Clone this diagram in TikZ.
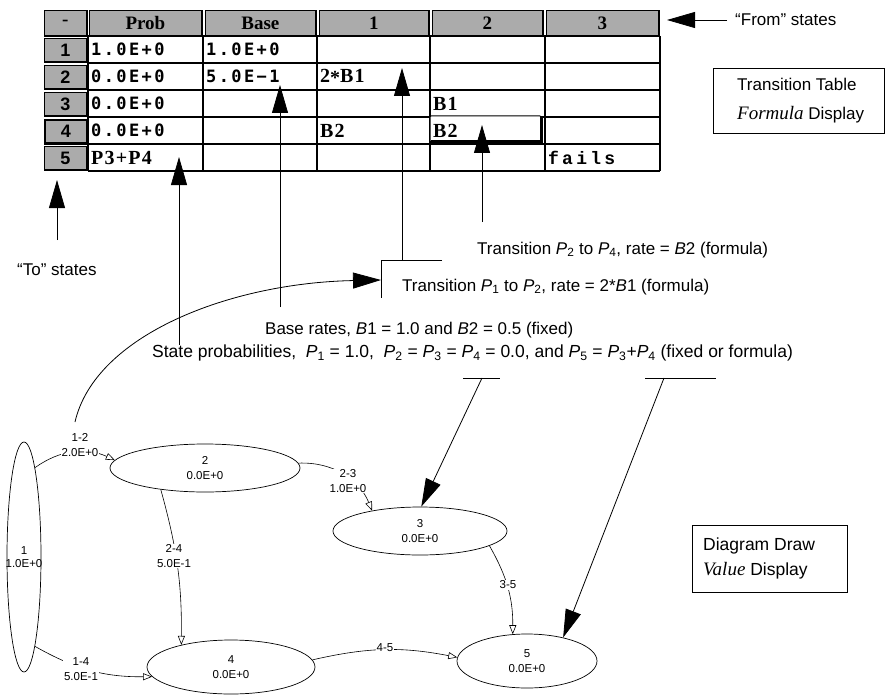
\documentclass[tikz,border=0pt]{standalone}
\usepackage{fontspec}
\setmainfont{Liberation Sans}
\newfontfamily\serifface{Liberation Serif}
\newfontfamily\monoface[LetterSpace=14]{DejaVu Sans Mono}
\newfontfamily\forface[LetterSpace=6]{Liberation Serif}
\newfontfamily\courface[LetterSpace=18]{Liberation Mono}
\usetikzlibrary{arrows.meta,shapes.geometric}
\newcommand{\Pv}[1]{\textit{P}\textsubscript{#1}}
\newcommand{\Bv}[1]{\textit{B}#1}
\begin{document}
\begin{tikzpicture}[x=1pt,y=1pt,
  hdr/.style={draw, line width=0.8pt, fill=black!33, anchor=north west, inner sep=0pt, minimum height=25pt, font=\serifface\bfseries\fontsize{19}{19}\selectfont},
  rhdr/.style={draw, line width=0.8pt, fill=black!33, anchor=north west, inner sep=0pt, minimum width=42pt, minimum height=23pt, font=\bfseries\fontsize{18}{18}\selectfont},
  gridline/.style={line width=1.2pt},
  numcell/.style={anchor=west, inner sep=0pt, font=\monoface\bfseries\fontsize{17}{17}\selectfont},
  forcell/.style={anchor=west, inner sep=0pt, font=\forface\bfseries\fontsize{20}{20}\selectfont},
  courcell/.style={anchor=west, inner sep=0pt, font=\courface\bfseries\fontsize{18}{18}\selectfont},
  ann/.style={anchor=west, inner sep=0pt, font=\fontsize{17}{20}\selectfont},
  bigarrow/.style={line width=0.8pt, -{Triangle[length=28pt,width=16pt]}},
  state/.style={draw, ellipse, line width=0.7pt, inner sep=0pt, align=center, font=\fontsize{11.5}{14.5}\selectfont},
  etext/.style={inner sep=0pt, align=center, font=\fontsize{11.5}{13.5}\selectfont},
  elabel/.style={fill=white, inner sep=1pt, align=center, font=\fontsize{11.5}{14.5}\selectfont},
  edge/.style={line width=0.6pt, -{Triangle[open,length=9pt,width=7pt]}},
  infobox/.style={draw, line width=0.7pt, anchor=north west, inner sep=0pt},
  infotext/.style={anchor=west, inner sep=0pt, align=left},
]
\useasboundingbox (0,0) rectangle (885,-695);

% ---------- table header ----------
\node[hdr, minimum width=42pt]  (h0) at (44,-10)  {-};
\node[hdr, minimum width=112pt] (hP) at (89,-10)  {Prob};
\node[hdr, minimum width=110pt] (hB) at (205,-10) {Base};
\node[hdr, minimum width=109pt] (h1) at (319,-10) {1};
\node[hdr, minimum width=110pt] (h2) at (432,-10) {2};
\node[hdr, minimum width=112pt] (h3) at (546,-10) {3};
\foreach \n in {h0,hP,hB,h1,h2,h3}
  \draw[line width=2.2pt] (\n.south west) -- (\n.south east) -- (\n.north east);

% ---------- row headers ----------
\node[rhdr] (r1) at (44,-38)  {1};
\node[rhdr] (r2) at (44,-65)  {2};
\node[rhdr] (r3) at (44,-92)  {3};
\node[rhdr, line width=2pt] (r4) at (44,-119) {4};
\node[rhdr] (r5) at (44,-146) {5};
\foreach \n in {r1,r2,r3,r4,r5}
  \draw[line width=1.6pt] (\n.south west) -- (\n.south east) -- (\n.north east);

% ---------- grid ----------
\foreach \x in {88,203,317,430,545,660} \draw[gridline] (\x,-36) -- (\x,-171);
\foreach \y in {36,63,90,117,144,171} \draw[gridline] (88,-\y) -- (660,-\y);

% selected cell
\draw[line width=1pt, fill=white, rounded corners=1pt] (430,-116) rectangle (541,-142);
\draw[line width=3pt] (431,-142) -- (541,-142) -- (541,-117);

% ---------- cell contents ----------
\node[numcell] (p1) at (91,-49.5)  {1.0E+0};
\node[numcell] (b1) at (206,-49.5) {1.0E+0};
\node[numcell] (p2) at (91,-76.5)  {0.0E+0};
\node[numcell] (b2) at (206,-76.5) {5.0E−1};
\node[forcell] (f12) at (320,-76.5) {2\raisebox{-0.2ex}{*}B1};
\node[numcell] (p3) at (91,-103.5) {0.0E+0};
\node[forcell] (f23) at (433,-103.5) {B1};
\node[numcell] (p4) at (91,-130.5) {0.0E+0};
\node[forcell] (f14) at (320,-130.5) {B2};
\node[forcell] (f24) at (433,-130.5) {B2};
\node[forcell] (p5) at (91,-157.5) {P3+P4};
\node[courcell] (f35) at (548,-157.5) {fails};

% ---------- annotations ----------
\node[ann] (fromT) at (735,-20) {``From'' states};
\coordinate (fromS) at (727,-20);
\coordinate (fromE) at (667,-20);
\draw[bigarrow] (fromS) -- (fromE);

\node[ann] (toT) at (17,-270) {``To'' states};
\coordinate (toS) at (57,-240);
\coordinate (toE) at (57,-180);
\draw[bigarrow] (toS) -- (toE);

\coordinate (probS) at (179,-345);
\coordinate (probE) at (179,-157);
\draw[bigarrow] (probS) -- (probE);

\coordinate (baseS) at (280,-307);
\coordinate (baseE) at (280,-85);
\draw[bigarrow] (baseS) -- (baseE);

\coordinate (t12S) at (402,-260);
\coordinate (t12E) at (402,-68);
\draw[bigarrow] (t12S) -- (t12E);

\coordinate (t24S) at (482,-222);
\coordinate (t24E) at (482,-125);
\draw[bigarrow] (t24S) -- (t24E);

\coordinate (brA) at (442,-260);
\coordinate (brB) at (381,-260);
\coordinate (brC) at (381,-298);
\draw[line width=0.8pt] (brA) -- (brB) -- (brC);

\node[ann] (t24T) at (477,-250) {Transition \Pv{2} to \Pv{4}, rate = \Bv{2} (formula)};
\node[ann] (t12T) at (402,-287) {Transition \Pv{1} to \Pv{2}, rate = 2*\Bv{1} (formula)};
\node[ann] (baseT) at (265,-330) {Base rates, \Bv{1} = 1.0 and \Bv{2} = 0.5 (fixed)};
\node[ann, font=\fontsize{17.5}{20}\selectfont] (probT) at (152,-353) {State probabilities,\ \ \Pv{1} = 1.0,\ \ \Pv{2} = \Pv{3} = \Pv{4} = 0.0, and \Pv{5} = \Pv{3}+\Pv{4} (fixed or formula)};

\node[infobox, minimum width=171pt, minimum height=65pt] (tbox) at (713,-68) {};
\node[infotext, font=\fontsize{17}{29}\selectfont] (tboxT) at ([xshift=24pt]tbox.west) {Transition Table\\{\serifface\itshape\fontsize{19}{29}\selectfont Formula} Display};
\node[infobox, minimum width=155pt, minimum height=67pt] (dbox) at (692,-525) {};
\node[infotext, font=\fontsize{17.5}{25}\selectfont] (dboxT) at ([xshift=11pt]dbox.west) {Diagram Draw\\{\serifface\itshape\fontsize{19}{25}\selectfont Value} Display};

% ---------- state diagram ----------
\node[state, minimum width=34pt, minimum height=230pt] (e1) at (24,-557) {};
\node[etext] (e1t) at (24,-557) {1\\1.0E+0};
\node[state, minimum width=190pt, minimum height=48pt] (e2) at (205,-468) {2\\0.0E+0};
\node[state, minimum width=174pt, minimum height=48pt] (e3) at (420,-531) {3\\0.0E+0};
\node[state, minimum width=168pt, minimum height=54pt] (e4) at (231,-667) {4\\0.0E+0};
\node[state, minimum width=140pt, minimum height=54pt] (e5) at (527,-661) {5\\0.0E+0};

\draw[edge] (e1.83) to[bend left=30] (e2.175);
\draw[edge] (e1.277) to[bend right=15] (e4.187);
\draw[edge] (e2.206) to[bend left=8] (e4.156);
\draw[edge] (e2.3) to[bend left=35] (e3.157);
\draw[edge] (e3.348.5) to[bend left=15] (e5.118);
\draw[edge] (e4.5) to[bend left=12] (e5.177);

\node[elabel] (l12) at (80,-445) {1-2\\2.0E+0};
\node[elabel] (l14) at (81,-669) {1-4\\5.0E-1};
\node[elabel] (l24) at (174,-556) {2-4\\5.0E-1};
\node[elabel] (l23) at (348,-481) {2-3\\1.0E+0};
\node[elabel] (l35) at (508,-585) {3-5};
\node[elabel] (l45) at (385,-648) {4-5};

% curved pointer from the diagram to the transition note
\coordinate (curS) at (75,-422);
\coordinate (curE) at (381,-280);
\draw[bigarrow] (curS) .. controls (95,-335) and (230,-283) .. (curE);

% pointers from the probability note to the diagram
\coordinate (u1a) at (463,-378);
\coordinate (u1b) at (500,-378);
\coordinate (u1m) at (482,-378);
\draw[line width=0.8pt] (u1a) -- (u1b);
\draw[bigarrow] (u1m) -- (e3.87);
\coordinate (u2a) at (645,-378);
\coordinate (u2b) at (716,-378);
\coordinate (u2m) at (664,-378);
\draw[line width=0.8pt] (u2a) -- (u2b);
\draw[bigarrow] (u2m) -- (e5.33);
\end{tikzpicture}
\end{document}
